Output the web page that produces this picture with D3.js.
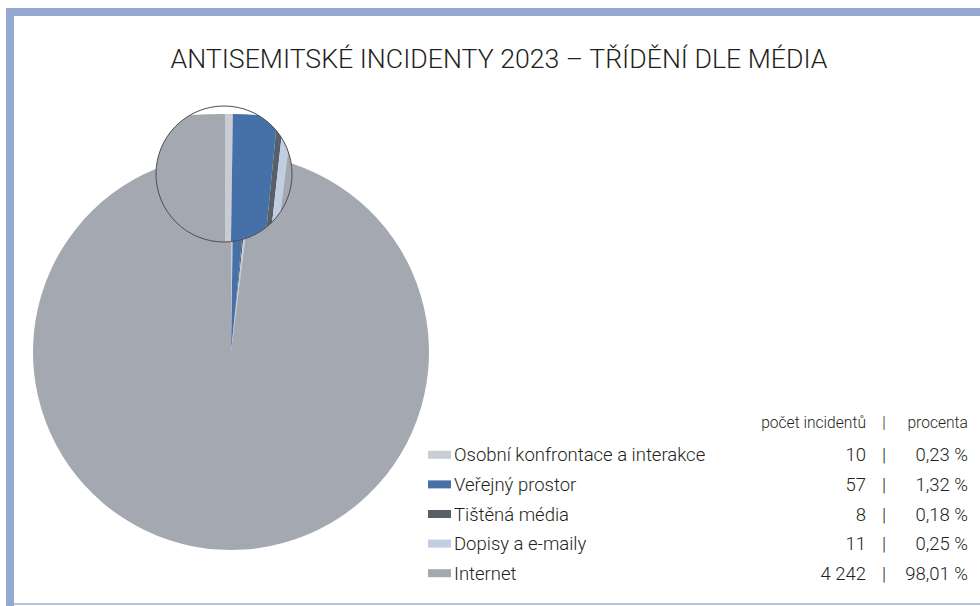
<!DOCTYPE html>
<meta charset="utf-8">
<style>
body { margin: 0; background: #fff; }
svg text { font-family: Roboto, "Liberation Sans", sans-serif; font-weight: 300; fill: #231f20; }
</style>
<svg width="980" height="606"></svg>
<script src="https://d3js.org/d3.v7.min.js"></script>
<script>

var categories = ["Osobní konfrontace a interakce", "Veřejný prostor", "Tištěná média", "Dopisy a e-maily", "Internet"];
var counts = [10, 57, 8, 11, 4242];
var countLabels = ["10", "57", "8", "11", "4 242"];
var percentLabels = ["0,23 %", "1,32 %", "0,18 %", "0,25 %", "98,01 %"];
var colors = ["#c9ccd3", "#4571a8", "#575f69", "#c1cde1", "#a3a8b1"];

var data = categories.map(function(c, i) {
  return {name: c, value: counts[i], count: countLabels[i], pct: percentLabels[i], color: colors[i]};
});

var svg = d3.select("svg");

// frame
svg.append("rect").attr("x", 6).attr("y", 8).attr("width", 974).attr("height", 8).attr("fill", "#95a9d0");
svg.append("rect").attr("x", 6).attr("y", 8).attr("width", 8).attr("height", 598).attr("fill", "#95a9d0");
svg.append("rect").attr("x", 14).attr("y", 603).attr("width", 966).attr("height", 2).attr("fill", "#b9c3d9");

svg.append("text")
    .attr("x", 499).attr("y", 68)
    .attr("text-anchor", "middle")
    .style("font-size", "26.7px")
    .text("ANTISEMITSKÉ INCIDENTY 2023 – TŘÍDĚNÍ DLE MÉDIA");

var pie = d3.pie().sort(null).value(function(d) { return d.value; });
var arcs = pie(data);

// main pie
var r = 198;
var main = svg.append("g").attr("transform", "translate(231,352)");
main.selectAll("path").data(arcs).enter().append("path")
    .attr("d", d3.arc().innerRadius(0).outerRadius(r))
    .attr("fill", function(d) { return d.data.color; });

// magnifier
var mx = 224, my = 174, mr = 68, R = 540;
svg.append("clipPath").attr("id", "lens")
  .append("circle").attr("cx", mx).attr("cy", my).attr("r", mr);

var lens = svg.append("g").attr("clip-path", "url(#lens)");
lens.append("circle").attr("cx", mx).attr("cy", my).attr("r", mr).attr("fill", "#fff");
lens.append("g").attr("transform", "translate(225," + (114 + R) + ")")
  .selectAll("path").data(arcs).enter().append("path")
    .attr("d", d3.arc().innerRadius(0).outerRadius(R))
    .attr("fill", function(d) { return d.data.color; });

svg.append("circle").attr("cx", mx).attr("cy", my).attr("r", mr)
    .attr("fill", "none").attr("stroke", "#4d4d4f").attr("stroke-width", 1);

// legend
var y = d3.scaleBand().domain(categories).range([440, 588]).padding(0);

svg.append("text").attr("x", 866).attr("y", 428).attr("text-anchor", "end")
    .style("font-size", "15.6px").text("počet incidentů");
svg.append("text").attr("x", 884).attr("y", 428).attr("text-anchor", "middle")
    .style("font-size", "15.6px").text("|");
svg.append("text").attr("x", 968).attr("y", 428).attr("text-anchor", "end")
    .style("font-size", "15.6px").text("procenta");

var row = svg.selectAll("g.row").data(data).enter().append("g")
    .attr("class", "row")
    .attr("transform", function(d) { return "translate(0," + (y(d.name) + y.bandwidth() / 2) + ")"; });

row.append("rect").attr("x", 428).attr("y", -4).attr("width", 23).attr("height", 8)
    .attr("fill", function(d) { return d.color; });
row.append("text").attr("x", 454).attr("y", 6.5).style("font-size", "18.5px")
    .text(function(d) { return d.name; });
row.append("text").attr("x", 866).attr("y", 6.5).attr("text-anchor", "end").style("font-size", "18.5px")
    .text(function(d) { return d.count; });
row.append("text").attr("x", 884).attr("y", 6.5).attr("text-anchor", "middle").style("font-size", "18.5px")
    .text("|");
row.append("text").attr("x", 968).attr("y", 6.5).attr("text-anchor", "end").style("font-size", "18.5px")
    .text(function(d) { return d.pct; });

</script>
